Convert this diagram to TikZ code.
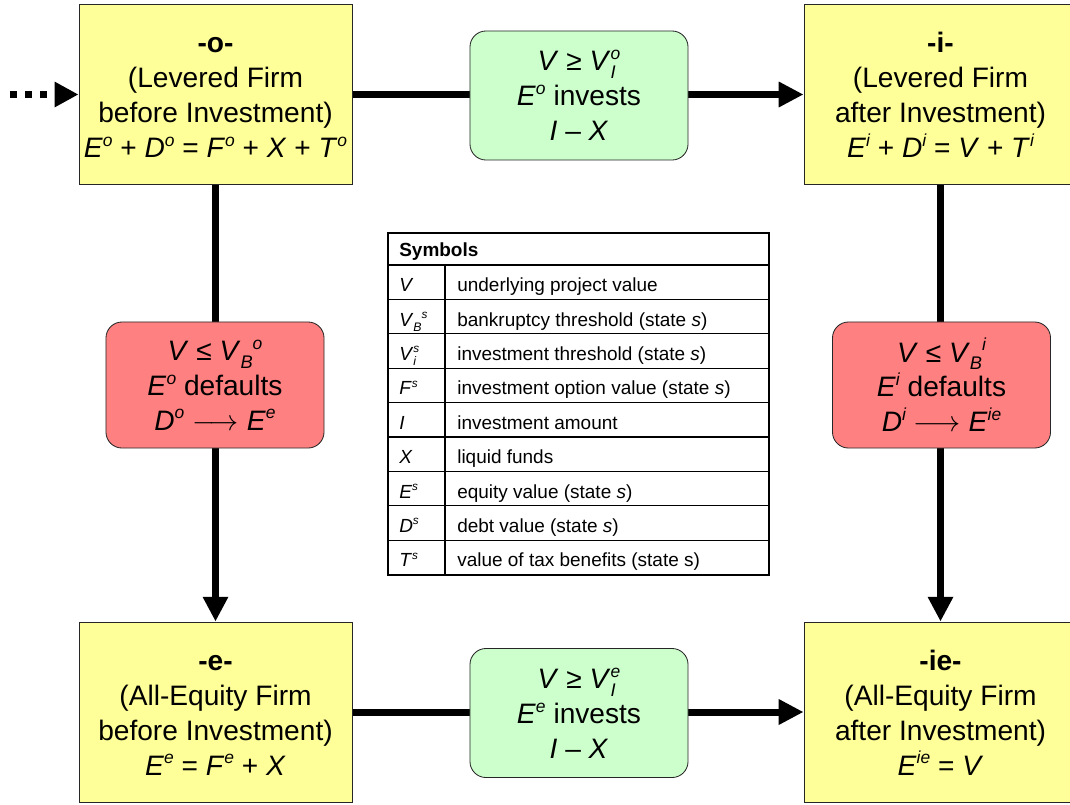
\documentclass[tikz,border=0pt]{standalone}
\usepackage{fontspec}
\setmainfont{Liberation Sans}
\usetikzlibrary{arrows.meta,backgrounds}
\definecolor{boxyellow}{HTML}{FFFF99}
\definecolor{boxgreen}{HTML}{CCFFCC}
\definecolor{boxred}{HTML}{FF8080}
\newcommand{\Sb}[1]{\raisebox{-0.28em}{\scalebox{0.65}{\itshape #1}}}
\newcommand{\Sp}[1]{\raisebox{0.40em}{\scalebox{0.62}{\itshape #1}}}
\newcommand{\SbSp}[2]{\makebox[0pt][l]{\Sb{#1}}\Sp{#2}}
\newcommand{\Top}{\rule{0pt}{0.76em}}
\begin{document}
\begin{tikzpicture}[x=0.025cm,y=-0.025cm,
  big/.style={font=\fontsize{20}{24.8}\selectfont, align=center, inner sep=0pt},
  firm/.style={big, draw=black!85, line width=0.6pt, fill=boxyellow, minimum width=6.825cm, minimum height=4.5cm},
  invest/.style={big, draw=black!85, line width=0.6pt, fill=boxgreen, rounded corners=0.4cm, minimum width=5.45cm, minimum height=3.225cm},
  default/.style={big, draw=black!85, line width=0.6pt, fill=boxred, rounded corners=0.4cm, minimum width=5.45cm, minimum height=3.15cm},
  flow/.style={line width=5pt, -{Triangle[length=0.62cm,width=0.6cm]}},
  dotflow/.style={line width=5pt, dash pattern=on 0.175cm off 0.2cm, -{Triangle[length=0.6cm,width=0.6cm]}},
  tab/.style={line width=0.9pt, draw=black},
  tabtext/.style={font=\fontsize{13.5}{16}\selectfont, anchor=base west, inner sep=0pt}]
\useasboundingbox (0,0) rectangle (1070,804);
\clip (0,0) rectangle (1070,804);
% firm states
\node[firm] (o) at (215.5,94.5) {\Top\textbf{-o-}\\(Levered Firm\\before Investment)\\\textit{E}\Sp{o} + \textit{D}\Sp{o} = \textit{F}\Sp{o} + \textit{X} + \textit{T}\Sp{o}};
\node[firm] (i) at (940.5,94.5) {\Top\textbf{-i-}\\(Levered Firm\\after Investment)\\\textit{E}\Sp{i} + \textit{D}\Sp{i} = \textit{V} + \textit{T}\Sp{i}};
\node[firm] (e) at (215.5,712) {\Top\textbf{-e-}\\(All-Equity Firm\\before Investment)\\\textit{E}\Sp{e} = \textit{F}\Sp{e} + \textit{X}};
\node[firm] (ie) at (940.5,712) {\Top\textbf{-ie-}\\(All-Equity Firm\\after Investment)\\\textit{E}\Sp{ie} = \textit{V}};
% transitions
\node[invest] (gi) at (579,95.5) {\textit{V} ≥ \textit{V}\SbSp{I}{o}\\\textit{E}\Sp{o} invests\\\textit{I} – \textit{X}};
\node[invest] (ge) at (579,713) {\textit{V} ≥ \textit{V}\SbSp{I}{e}\\\textit{E}\Sp{e} invests\\\textit{I} – \textit{X}};
\node[default] (ro) at (215,385) {\textit{V} ≤ \textit{V}\Sb{B}\Sp{o}\\\textit{E}\Sp{o} defaults\\\textit{D}\Sp{o} $\longrightarrow$ \textit{E}\Sp{e}};
\node[default] (ri) at (941.5,385) {\textit{V} ≤ \textit{V}\Sb{B}\Sp{i}\\\textit{E}\Sp{i} defaults\\\textit{D}\Sp{i} $\longrightarrow$ \textit{E}\Sp{ie}};
\coordinate (start) at (10,94.5);
\begin{scope}[on background layer]
\draw[flow] (o.east) -- (i.west);
\draw[flow] (e.east) -- (ie.west);
\draw[flow] (o.south) -- (e.north);
\draw[flow] (i.south) -- (ie.north);
\draw[dotflow] (start) -- (o.west);
\end{scope}
% symbols table
\draw[tab] (388,233) rectangle (769,575);
\draw[tab] (388,265) -- (769,265);
\foreach \k in {1,...,8} \draw[tab] (388,265+34.4*\k) -- (769,265+34.4*\k);
\draw[tab] (445,265) -- (445,575);
\node[tabtext] (symhead) at (399,256.5) {\textbf{Symbols}};
\foreach \s/\d [count=\k] in {
  {\textit{V}}/{underlying project value},
  {\textit{V}\Sb{B}\Sp{s}}/{bankruptcy threshold (state \textit{s})},
  {\textit{V}\SbSp{i}{s}}/{investment threshold (state \textit{s})},
  {\textit{F}\Sp{s}}/{investment option value (state \textit{s})},
  {\textit{I}}/{investment amount},
  {\textit{X}}/{liquid funds},
  {\textit{E}\Sp{s}}/{equity value (state \textit{s})},
  {\textit{D}\Sp{s}}/{debt value (state \textit{s})},
  {\textit{T}\Sp{s}}/{value of tax benefits (state s)}} {
  \node[tabtext] (sym\k) at (399,265+34.4*\k-17.2+9.5) {\s};
  \node[tabtext] (desc\k) at (457,265+34.4*\k-17.2+9.5) {\d};
}
\end{tikzpicture}
\end{document}
